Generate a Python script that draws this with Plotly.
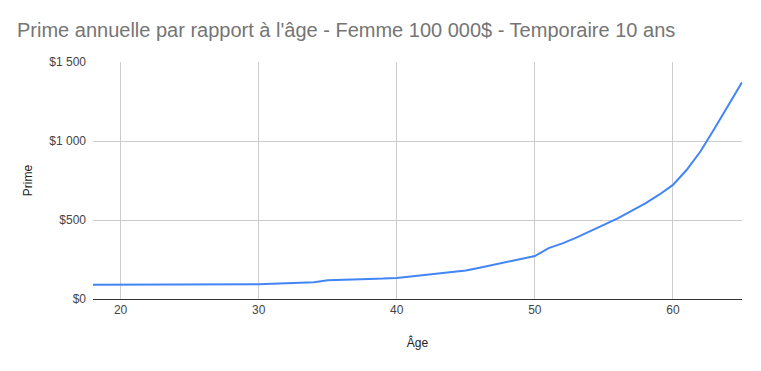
import plotly.graph_objects as go

ages = list(range(18, 66))
primes = [90, 90, 90, 91, 91, 91, 91, 91, 91, 92,
          93, 94, 94, 97, 100, 103, 106, 118, 122, 125,
          127, 129, 133, 142, 152, 163, 172, 180, 198, 216,
          234, 252, 272, 322, 352, 388, 428, 467, 510, 558,
          605, 660, 722, 818, 935, 1078, 1225, 1372]

y_tickvals = [0, 500, 1000, 1500]
y_ticktext = ["$0", "$500", "$1 000", "$1 500"]
x_tickvals = [20, 30, 40, 50, 60]

fig = go.Figure()
fig.add_trace(go.Scatter(x=ages, y=primes, mode="lines",
                         line=dict(color="#4285F4", width=2), hoverinfo="x+y"))

fig.update_layout(
    width=761, height=371,
    paper_bgcolor="white", plot_bgcolor="white",
    margin=dict(l=93, r=19, t=62, b=72),
    font=dict(family="Liberation Sans, Arial, sans-serif", color="#444444"),
    title=dict(text="Prime annuelle par rapport à l'âge - Femme 100 000$ - Temporaire 10 ans",
               x=17/761, xref="container", xanchor="left",
               y=1-30/371, yref="container", yanchor="middle",
               font=dict(size=20, color="#757575", family="Liberation Sans, Arial, sans-serif")),
    showlegend=False,
)
fig.update_xaxes(range=[18, 65], tickvals=x_tickvals, showgrid=True, gridcolor="#cccccc",
                 gridwidth=1, zeroline=False, showline=True, linecolor="#333333", linewidth=1,
                 ticks="", tickfont=dict(size=12, color="#444444"),
                 title=dict(text="Âge", font=dict(size=12, color="#222222"), standoff=22))
fig.update_yaxes(range=[0, 1500], tickvals=y_tickvals, ticktext=y_ticktext, showgrid=True,
                 gridcolor="#cccccc", gridwidth=1, zeroline=False, showline=False,
                 ticks="", tickfont=dict(size=12, color="#444444"), ticklabelstandoff=6,
                 title=dict(text="Prime", font=dict(size=12, color="#222222"), standoff=14))

fig.write_html("out.html")
